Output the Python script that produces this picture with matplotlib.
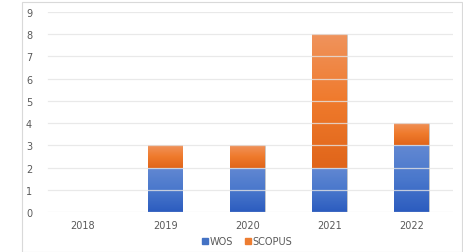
import numpy as np
import matplotlib.pyplot as plt
from matplotlib.patches import Rectangle
from matplotlib.colors import LinearSegmentedColormap

# data
years = ['2018', '2019', '2020', '2021', '2022']
wos = [0, 2, 2, 2, 3]
scopus = [0, 1, 1, 6, 1]

blue_cmap = LinearSegmentedColormap.from_list('b', ['#2c5cbf', '#4a78cc', '#6288d2'])
orange_cmap = LinearSegmentedColormap.from_list('o', ['#e0651a', '#ef7a2c', '#f0935c'])

fig = plt.figure(figsize=(4.64, 2.53), dpi=100)
ax = fig.add_axes([0.09, 0.158, 0.886, 0.791])

x = np.arange(len(years))
width = 0.42
b1 = ax.bar(x, wos, width, color='#4472c4', edgecolor='#c8c8c8', linewidth=0.6, zorder=2)
b2 = ax.bar(x, scopus, width, bottom=wos, color='#ed7d31', edgecolor='#c8c8c8', linewidth=0.6, zorder=2)

# gradient fill, lighter on top of each segment
grad = np.linspace(0, 1, 100).reshape(-1, 1)
for bars, cmap in [(b1, blue_cmap), (b2, orange_cmap)]:
    for p in bars:
        h = p.get_height()
        if h == 0:
            continue
        x0, y0 = p.get_x(), p.get_y()
        im = ax.imshow(grad, cmap=cmap, origin='lower', aspect='auto',
                       extent=[x0, x0 + p.get_width(), y0, y0 + h], zorder=2.5)
        im.set_clip_path(p)

ax.set_xlim(-0.5, len(years) - 0.5)
ax.set_ylim(0, 9)
ax.set_yticks(range(10))
ax.set_xticks(x)
ax.set_xticklabels(years)
for gy in range(10):
    ax.axhline(gy, xmin=0.015, color='#e4e4e4', linewidth=0.9, alpha=0.8, zorder=3)

for s in ax.spines.values():
    s.set_visible(False)
ax.tick_params(length=0, colors='#595959', labelsize=7)
ax.tick_params(axis='y', pad=7)
ax.tick_params(axis='x', pad=6)

ax.legend([Rectangle((0, 0), 1, 1, color='#4472c4'), Rectangle((0, 0), 1, 1, color='#ed7d31')],
          ['WOS', 'SCOPUS'], loc='center', bbox_to_anchor=(0.5, -0.145), ncol=2,
          frameon=False, fontsize=7, handlelength=0.6, handleheight=0.6,
          handletextpad=0.2, columnspacing=1.2, labelcolor='#595959')

fig.patches.append(Rectangle((22 / 464, 0.0), 440 / 464, 0.99, transform=fig.transFigure,
                             fill=False, edgecolor='#d9d9d9', linewidth=0.8))

fig.savefig('out.png', dpi=100)
